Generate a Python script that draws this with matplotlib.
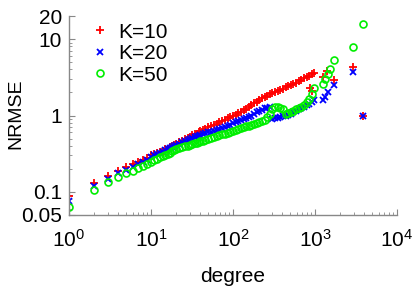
import matplotlib
matplotlib.use("Agg")
import matplotlib.pyplot as plt
from matplotlib.ticker import FixedLocator, LogLocator, NullFormatter, FixedFormatter

plt.rcParams['font.family'] = ['Liberation Sans', 'DejaVu Sans']
plt.rcParams['mathtext.fontset'] = 'custom'
plt.rcParams['mathtext.rm'] = 'Liberation Sans'

degree = [1, 2, 3, 4, 5, 6, 7, 8, 9, 10, 11, 12, 13, 14, 15, 16, 17, 18, 19, 20,
          22, 24, 26, 28, 30, 32, 34, 36, 38, 40,
          43, 46, 50, 54, 58, 63, 68, 74, 80, 86, 93, 100,
          108, 116, 125, 135, 145, 156, 168, 181, 195, 210, 226, 243, 262, 282, 303,
          326, 351, 378, 407, 438, 471, 507, 546, 588, 633, 681, 733, 789, 850, 915, 985]

nrmse_k10 = [0.089, 0.132, 0.163, 0.19, 0.214, 0.23, 0.249, 0.265, 0.28, 0.30,
             0.31, 0.32, 0.335, 0.345, 0.36, 0.37, 0.385, 0.395, 0.41, 0.43,
             0.45, 0.47, 0.49, 0.51, 0.53, 0.55, 0.565, 0.58, 0.60, 0.62,
             0.64, 0.66, 0.70, 0.72, 0.75, 0.78, 0.82, 0.85, 0.88, 0.92, 0.96, 1.0,
             1.03, 1.08, 1.12, 1.17, 1.23, 1.3, 1.37, 1.45, 1.52, 1.6, 1.68, 1.75, 1.82, 1.9, 1.97,
             2.05, 2.12, 2.18, 2.25, 2.33, 2.42, 2.52, 2.6, 2.7, 2.8, 2.95, 3.05, 3.15, 3.3, 3.5, 3.55]

nrmse_k20 = [0.077, 0.12, 0.15, 0.175, 0.195, 0.215, 0.235, 0.25, 0.265, 0.285,
             0.30, 0.31, 0.325, 0.335, 0.35, 0.36, 0.375, 0.385, 0.40, 0.415,
             0.43, 0.45, 0.465, 0.48, 0.495, 0.51, 0.52, 0.535, 0.545, 0.555,
             0.57, 0.585, 0.60, 0.615, 0.635, 0.65, 0.67, 0.69, 0.71, 0.735, 0.76, 0.79,
             0.82, 0.85, 0.88, 0.91, 0.94, 0.97, 1.0, 1.05, 1.1, 1.14, 1.19, 1.24, 1.27, 1.3, 0.9,
             0.92, 0.94, 0.96, 0.98, 1.0, 1.02, 1.05, 1.1, 1.15, 1.2, 1.25, 1.3, 1.36, 1.42, 1.5, 1.58]

nrmse_k50 = [0.063, 0.105, 0.136, 0.157, 0.175, 0.19, 0.205, 0.22, 0.235, 0.25,
             0.26, 0.27, 0.285, 0.295, 0.305, 0.315, 0.325, 0.34, 0.35, 0.36,
             0.375, 0.385, 0.395, 0.405, 0.415, 0.425, 0.435, 0.44, 0.45, 0.46,
             0.47, 0.48, 0.50, 0.51, 0.52, 0.535, 0.55, 0.565, 0.58, 0.595, 0.61, 0.62,
             0.64, 0.66, 0.68, 0.70, 0.72, 0.74, 0.76, 0.78, 0.8, 0.82, 0.85, 0.88, 0.95, 1.05, 1.2,
             1.28, 1.3, 1.25, 1.2, 1.05, 1.07, 1.1, 1.15, 1.2, 1.25, 1.3, 1.38, 1.5, 1.65, 1.9, 2.3]

tail_deg_k10 = [880, 930, 1250, 1400, 1700, 2880, 3810]
tail_k10 = [2.3, 2.1, 3.2, 3.8, 2.9, 4.35, 1.0]
tail_deg_k20 = [1250, 1340, 1440, 1700, 2880, 3810]
tail_k20 = [1.6, 1.76, 2.05, 2.5, 3.7, 1.0]
tail_deg_k50 = [1245, 1340, 1440, 1530, 1700, 2880, 3810]
tail_k50 = [2.56, 2.97, 3.5, 4.0, 5.25, 7.9, 15.6]

labels = ['K=10', 'K=20', 'K=50']
ytick_vals = [0.05, 0.1, 1, 10, 20]
ytick_labels = ['0.05', '0.1', '1', '10', '20']
xtick_vals = [1, 10, 100, 1000, 10000]
xtick_labels = [r'$\mathregular{10^{0}}$', r'$\mathregular{10^{1}}$', r'$\mathregular{10^{2}}$',
                r'$\mathregular{10^{3}}$', r'$\mathregular{10^{4}}$']

FS = 15

fig = plt.figure(figsize=(4.15, 2.91), dpi=100)
ax = fig.add_axes([69/415, 76/291, 328/415, 199/291])

ax.plot(degree + tail_deg_k10, nrmse_k10 + tail_k10, linestyle='none', marker='+',
        color='#ff0000', ms=5.5, mew=1.3, label=labels[0])
ax.plot(degree + tail_deg_k20, nrmse_k20 + tail_k20, linestyle='none', marker='x',
        color='#0000ff', ms=4.4, mew=1.3, label=labels[1])
ax.plot(degree + tail_deg_k50, nrmse_k50 + tail_k50, linestyle='none', marker='o',
        mfc='none', mec='#00ee00', ms=5, mew=1.2, label=labels[2])

ax.set_xscale('log')
ax.set_yscale('log')
ax.set_xlim(1, 10000)
ax.set_ylim(0.05, 20)

ax.xaxis.set_major_locator(FixedLocator(xtick_vals))
ax.xaxis.set_major_formatter(FixedFormatter(xtick_labels))
ax.xaxis.set_minor_locator(LogLocator(base=10, subs=range(2, 10), numticks=20))
ax.xaxis.set_minor_formatter(NullFormatter())
ax.yaxis.set_major_locator(FixedLocator(ytick_vals))
ax.yaxis.set_major_formatter(FixedFormatter(ytick_labels))
ax.yaxis.set_minor_locator(LogLocator(base=10, subs=range(2, 10), numticks=20))
ax.yaxis.set_minor_formatter(NullFormatter())

for s in ['top', 'right']:
    ax.spines[s].set_visible(False)
for s in ['left', 'bottom']:
    ax.spines[s].set_color('#888888')
    ax.spines[s].set_linewidth(1.0)

ax.tick_params(which='both', direction='in', colors='#888888', labelcolor='black', labelsize=FS)
ax.tick_params(which='major', length=4, width=0.8)
ax.tick_params(which='minor', length=2, width=0.6)
ax.tick_params(axis='x', which='major', pad=10)
ax.tick_params(axis='y', which='major', pad=5)

ax.set_xlabel('degree', fontsize=FS, labelpad=12)
ax.set_ylabel('NRMSE', fontsize=14)
ax.yaxis.set_label_coords(-0.137, 0.51)

leg = ax.legend(loc='upper left', bbox_to_anchor=(0.022, 1.045), frameon=False, fontsize=FS,
                handlelength=0.8, handletextpad=0.45, labelspacing=0.12, borderpad=0.25,
                markerscale=1.0)

fig.savefig('out.png', dpi=100)
